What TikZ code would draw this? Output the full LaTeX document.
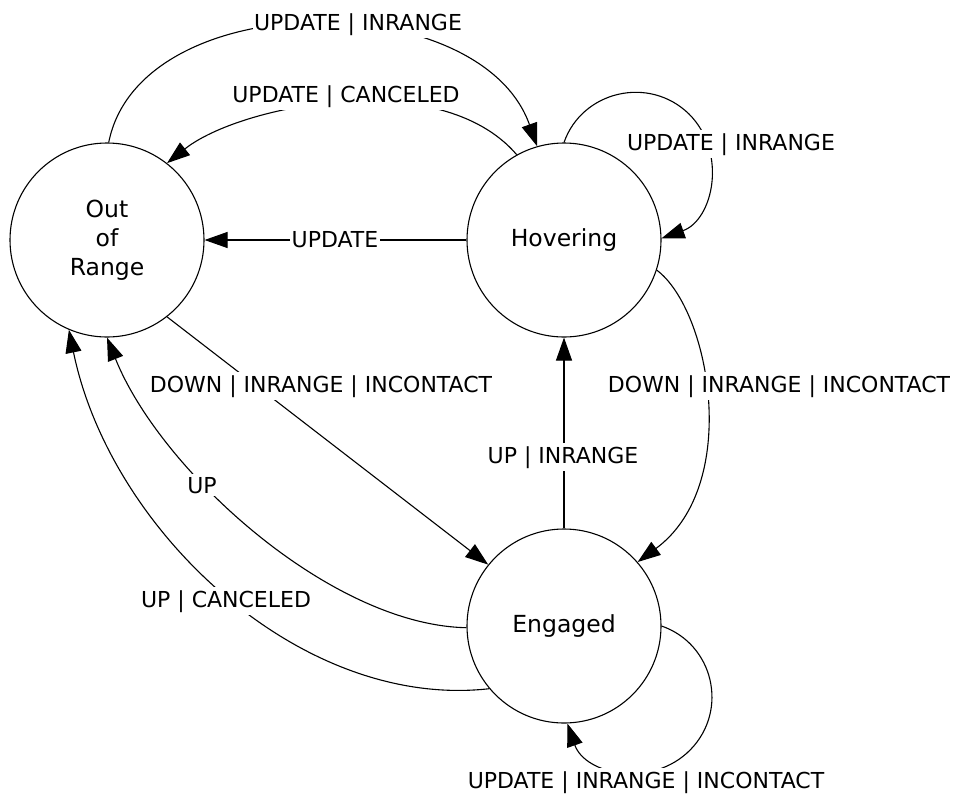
\documentclass[tikz,border=0pt]{standalone}
\usepackage{fontspec}
\setmainfont{DejaVu Sans}
\usetikzlibrary{arrows.meta}
\begin{document}
\begin{tikzpicture}[x=1pt,y=-1pt,
  state/.style={circle,draw,line width=1.1pt,minimum size=194pt,inner sep=0pt,align=center,font=\fontsize{23.5}{29}\selectfont},
  arr/.style={-{Triangle[length=23pt,width=16pt]},line width=1.1pt},
  lbl/.style={fill=white,inner xsep=1.5pt,inner ysep=3pt,anchor=base,font=\fontsize{22}{26}\selectfont}]
\useasboundingbox (0,0) rectangle (955,793);
\node[state] (oor) at (107,240) {Out\\of\\Range};
\node[state] (hov) at (564,240) {Hovering};
\node[state] (eng) at (564,626) {Engaged};
% edges
\draw[arr] (oor.89) .. controls (140,-15) and (480,-15) .. (hov.106);
\draw[arr] (hov.119) .. controls (440,65) and (240,105) .. (oor.52);
\draw[arr] (hov.180) -- (oor.0);
\draw[arr] (hov.90) .. controls (582,91) and (649,75) .. (689,114) .. controls (728,153) and (713,220) .. (hov.1);
\draw[arr] (hov.-18) .. controls (710,310) and (742,485) .. (eng.41);
\draw[arr] (eng.90) -- (hov.-90);
\draw[arr] (oor.-52) -- (eng.141);
\draw[arr] (eng.181) .. controls (330,625) and (160,470) .. (oor.-90);
\draw[arr] (eng.220) .. controls (300,710) and (110,530) .. (oor.247);
\draw[arr] (eng.0) .. controls (713.5,644) and (729,710) .. (690.5,749.6) .. controls (652,789) and (585,774.5) .. (eng.-88);
% labels
\node[lbl] (l1) at (358,30) {UPDATE | INRANGE};
\node[lbl] (l2) at (346,102) {UPDATE | CANCELED};
\node[lbl] (l3) at (335,247) {UPDATE};
\node[lbl] (l4) at (731,150) {UPDATE | INRANGE};
\node[lbl] (l5) at (779,392) {DOWN | INRANGE | INCONTACT};
\node[lbl] (l6) at (563,463) {UP | INRANGE};
\node[lbl] (l7) at (321,392) {DOWN | INRANGE | INCONTACT};
\node[lbl] (l8) at (202,493) {UP};
\node[lbl] (l9) at (226,607) {UP | CANCELED};
\node[lbl] (l10) at (646,788) {UPDATE | INRANGE | INCONTACT};
\end{tikzpicture}
\end{document}
